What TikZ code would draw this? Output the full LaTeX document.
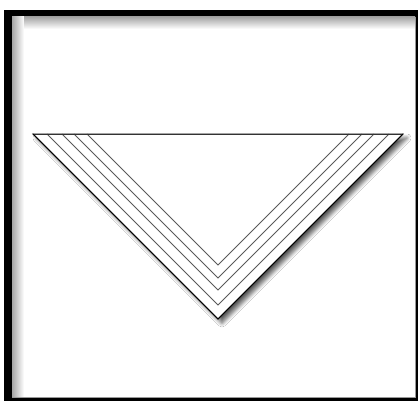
\documentclass[tikz,border=0pt]{standalone}
\usetikzlibrary{shadows.blur}
\tikzset{
  vline/.style={draw=black!65, line width=0.8pt},
  outertri/.style={draw=black, line width=0.9pt, fill=white,
    blur shadow={shadow xshift=4pt, shadow yshift=-4pt, shadow blur steps=8, shadow blur radius=4pt, shadow opacity=65}}
}
\begin{document}
\begin{tikzpicture}[x=1pt,y=-1pt]
\useasboundingbox (0,0) rectangle (418,401);
\fill[white] (0,0) rectangle (418,401);
% frame
\fill[black] (4,10) rectangle (418,401);
\fill[white] (12,17) rectangle (415,397);
\shade[left color=black!35, right color=white] (12,17) rectangle (24,397);
\shade[top color=black!35, bottom color=white] (24,17) rectangle (415,29);
\fill[white] (24,29) rectangle (415,397);
\draw[black!40, line width=0.6pt] (415,17) -- (415,397) -- (12,397);
% triangle
\path[outertri] (33,134) -- (403,134) -- (218,319) -- cycle;
\draw[vline] (47,134) -- (218,305) -- (389,134);
\draw[vline] (62,134) -- (218,290) -- (374,134);
\draw[vline] (74,134) -- (218,278) -- (362,134);
\draw[vline] (87,134) -- (218,265) -- (349,134);
\draw[black!80, line width=0.9pt] (33,134) -- (403,134);
\draw[black, line width=0.9pt] (33,134) -- (218,319) -- (403,134);
\end{tikzpicture}
\end{document}
